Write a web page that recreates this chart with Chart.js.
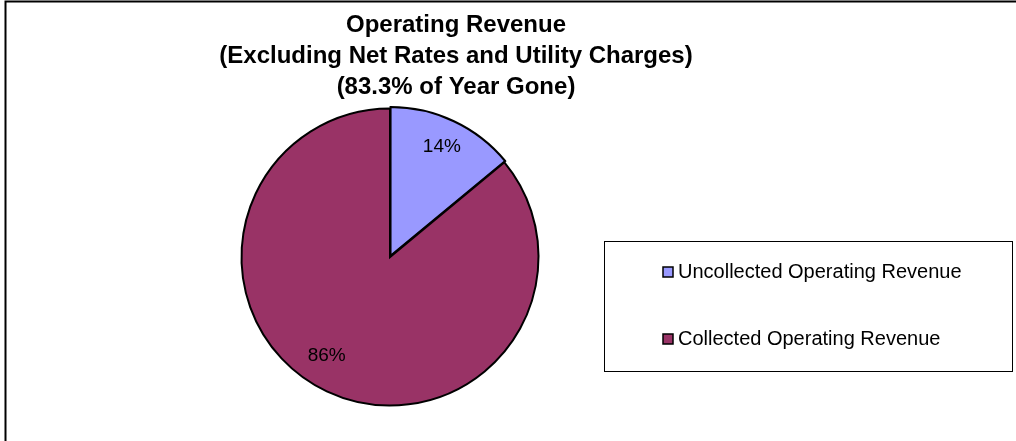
<!DOCTYPE html>
<html>
<head>
<meta charset="utf-8">
<title>Operating Revenue</title>
<script src="https://cdn.jsdelivr.net/npm/chart.js@4/dist/chart.umd.min.js"></script>
<style>
  html, body { margin: 0; padding: 0; background: #fff; }
  #wrap { position: relative; width: 1016px; height: 441px; }
</style>
</head>
<body>
<div id="wrap"><canvas id="revChart" width="1016" height="441"></canvas></div>
<script>
'use strict';
// pie data
let categories = ['Uncollected Operating Revenue', 'Collected Operating Revenue'];
let shares = [14, 86];
let sliceColors = ['#9999FF', '#993366'];
let titleLines = ['Operating Revenue', '(Excluding Net Rates and Utility Charges)', '(83.3% of Year Gone)'];

let fontName = '"Liberation Sans", Arial, sans-serif';

// frame, title, percent labels and boxed legend
let extras = {
  id: 'extras',
  beforeDraw(chart){
    let ctx = chart.ctx;
    ctx.save();
    ctx.strokeStyle = '#000';
    ctx.lineWidth = 2;
    ctx.beginPath();
    ctx.moveTo(5.5, 441);
    ctx.lineTo(5.5, 1.5);
    ctx.lineTo(1016, 1.5);
    ctx.stroke();
    ctx.restore();
  },
  afterDraw(chart){
    let ctx = chart.ctx;
    ctx.save();
    ctx.fillStyle = '#000';
    ctx.textAlign = 'center';
    ctx.textBaseline = 'middle';
    ctx.font = 'bold 24px ' + fontName;
    titleLines.forEach(function(line, i){
      ctx.fillText(line, 456, 25 + i * 31);
    });

    // percent labels: fraction of radius and a small angle nudge per slice
    let meta = chart.getDatasetMeta(0);
    let total = shares.reduce(function(a, b){ return a + b; }, 0);
    let labelPos = [0.82, 0.79];
    let labelShift = [0, 0.13];
    ctx.font = '19px ' + fontName;
    meta.data.forEach(function(arc, i){
      let mid = (arc.startAngle + arc.endAngle) / 2 + labelShift[i];
      let r = arc.outerRadius * labelPos[i];
      let x = arc.x + Math.cos(mid) * r;
      let y = arc.y + Math.sin(mid) * r;
      ctx.fillText(Math.round(shares[i] / total * 100) + '%', x, y);
    });

    // legend box
    ctx.strokeStyle = '#000';
    ctx.lineWidth = 1;
    ctx.strokeRect(604.5, 241.5, 408, 130);
    ctx.textAlign = 'left';
    ctx.font = '20px ' + fontName;
    categories.forEach(function(name, i){
      let cy = 272 + i * 67;
      ctx.fillStyle = sliceColors[i];
      ctx.fillRect(663, cy - 5, 10, 10);
      ctx.lineWidth = 1.5;
      ctx.strokeRect(663, cy - 5, 10, 10);
      ctx.fillStyle = '#000';
      ctx.fillText(name, 678, cy);
    });
    ctx.restore();
  }
};

let ctx = document.getElementById('revChart');
let revChart = new Chart(ctx, {
  type: 'pie',
  data: {
    labels: categories,
    datasets: [{
      data: shares,
      backgroundColor: sliceColors,
      borderColor: '#000',
      borderWidth: 2,
      offset: [5, 0],
      borderJoinStyle: 'miter'
    }]
  },
  options: {
    responsive: false,
    animation: false,
    layout: {
      padding: { left: 238, right: 474, top: 105, bottom: 32 }
    },
    plugins: {
      legend: { display: false },
      title: { display: false },
      tooltip: { enabled: false }
    }
  },
  plugins: [extras]
});
</script>
</body>
</html>
